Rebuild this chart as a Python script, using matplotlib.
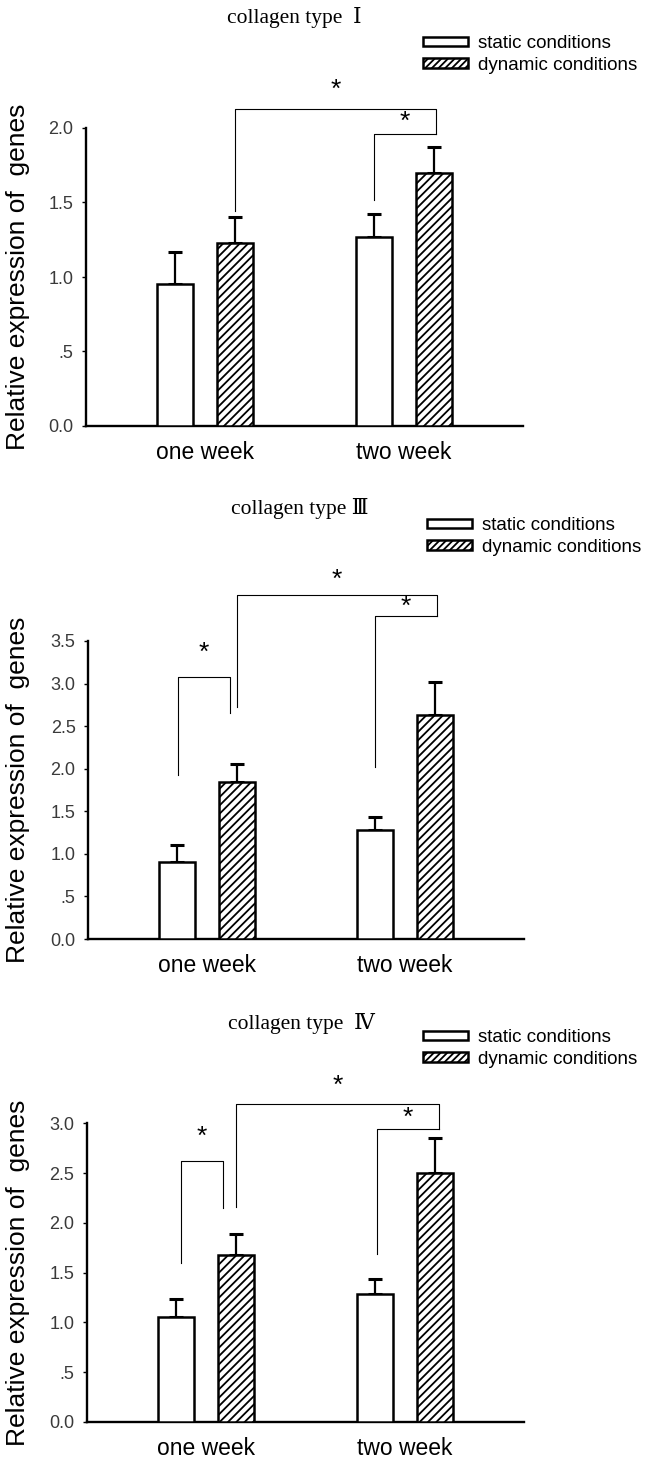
import matplotlib
matplotlib.use('Agg')
import matplotlib.pyplot as plt
from matplotlib.patches import Patch
import numpy as np

plt.rcParams['font.family'] = ['Liberation Sans', 'DejaVu Sans']
plt.rcParams['hatch.linewidth'] = 1.3

# ---------------- data ----------------
groups = ['one week', 'two week']
series = ['static conditions', 'dynamic conditions']
titles = ['collagen type  \u2160', 'collagen type \u2162', 'collagen type  \u2163']
ylabel = 'Relative expression of  genes'

col1_static = [0.95, 1.27]
col1_static_err = [0.22, 0.15]
col1_dynamic = [1.23, 1.695]
col1_dynamic_err = [0.17, 0.18]

col3_static = [0.90, 1.28]
col3_static_err = [0.20, 0.15]
col3_dynamic = [1.84, 2.63]
col3_dynamic_err = [0.21, 0.39]

col4_static = [1.05, 1.285]
col4_static_err = [0.19, 0.155]
col4_dynamic = [1.68, 2.50]
col4_dynamic_err = [0.21, 0.355]

ymax = [2.0, 3.5, 3.0]
ytick_vals = [[0, 0.5, 1.0, 1.5, 2.0],
              [0, 0.5, 1.0, 1.5, 2.0, 2.5, 3.0, 3.5],
              [0, 0.5, 1.0, 1.5, 2.0, 2.5, 3.0]]
ytick_labels = [['0.0', '.5', '1.0', '1.5', '2.0'],
                ['0.0', '.5', '1.0', '1.5', '2.0', '2.5', '3.0', '3.5'],
                ['0.0', '.5', '1.0', '1.5', '2.0', '2.5', '3.0']]

# significance brackets: (x_left, x_right, y_left_bottom, y_top, y_right_bottom, y_star)
brackets1 = [(1.15, 2.16, 1.445, 2.13, 1.96, 2.255),
             (1.85, 2.16, 1.52, 1.96, 1.96, 2.04)]
brackets3 = [(0.856, 1.115, 1.93, 3.08, 2.66, 3.36),
             (1.15, 2.16, 2.72, 4.04, 3.79, 4.22),
             (1.85, 2.16, 2.02, 3.79, 3.79, 3.90)]
brackets4 = [(0.873, 1.086, 1.60, 2.62, 2.15, 2.86),
             (1.15, 2.17, 2.16, 3.19, 2.94, 3.38),
             (1.86, 2.17, 1.69, 2.94, 2.94, 3.05)]

panels = [
    (col1_static, col1_static_err, col1_dynamic, col1_dynamic_err, brackets1),
    (col3_static, col3_static_err, col3_dynamic, col3_dynamic_err, brackets3),
    (col4_static, col4_static_err, col4_dynamic, col4_dynamic_err, brackets4),
]

# ---------------- layout (pixels) ----------------
W, H = 651, 1464
axes_px = [(86, 523, 128, 426), (88, 524, 641, 939), (87, 524, 1123.3, 1422)]
title_px = [(294, 18), (300, 508), (301, 1023)]
legend_px = [(423, 35), (427, 517), (423, 1029)]

fig = plt.figure(figsize=(W / 100, H / 100), dpi=100)

x = np.arange(1, len(groups) + 1)
off = 0.15
bw = 0.181

for i, (st, st_e, dy, dy_e, brs) in enumerate(panels):
    l, r, t, b = axes_px[i]
    ax = fig.add_axes([l / W, 1 - b / H, (r - l) / W, (b - t) / H])
    ax.bar(x - off, st, width=bw, facecolor='white', edgecolor='black', linewidth=1.8, zorder=3)
    ax.bar(x + off, dy, width=bw, facecolor='white', edgecolor='black', hatch='////',
           linewidth=1.8, zorder=3)
    ax.errorbar(x - off, st, yerr=[np.zeros(len(st)), st_e], fmt='none', ecolor='black',
                elinewidth=1.6, capsize=4.7, capthick=2.2, zorder=2)
    ax.errorbar(x + off, dy, yerr=[np.zeros(len(dy)), dy_e], fmt='none', ecolor='black',
                elinewidth=1.6, capsize=4.7, capthick=2.2, zorder=2)

    for (x0, x1, y0, yt, y1, ys) in brs:
        ax.plot([x0, x0, x1, x1], [y0, yt, yt, y1], color='black', lw=0.8, clip_on=False)
        ax.text((x0 + x1) / 2, ys, '*', ha='center', va='center', fontsize=19, clip_on=False)

    ax.set_xlim(0.4, 2.6)
    ax.set_ylim(0, ymax[i])
    ax.set_yticks(ytick_vals[i])
    ax.set_yticklabels(ytick_labels[i])
    ax.set_xticks(x)
    ax.set_xticklabels(groups)
    ax.tick_params(axis='y', direction='out', length=3, width=1, pad=6, labelsize=13,
                   labelcolor='#3a3a3a')
    ax.tick_params(axis='x', length=0, pad=11, labelsize=16.5)
    for s in ['top', 'right']:
        ax.spines[s].set_visible(False)
    for s in ['left', 'bottom']:
        ax.spines[s].set_linewidth(1.7)
    ax.set_ylabel(ylabel, fontsize=19)
    ax.yaxis.set_label_coords((30 - l) / (r - l), 0.5)

    tx, ty = title_px[i]
    fig.text(tx / W, 1 - ty / H, titles[i], ha='center', va='center', fontsize=15.5,
             family=['Liberation Serif', 'DejaVu Serif', 'Noto Sans CJK SC'])

    handles = [Patch(facecolor='white', edgecolor='black', linewidth=1.8),
               Patch(facecolor='white', edgecolor='black', hatch='/////', linewidth=1.8)]
    lx, ly = legend_px[i]
    fig.legend(handles, series, loc='upper left', bbox_to_anchor=(lx / W, 1 - ly / H),
               bbox_transform=fig.transFigure, frameon=False, borderaxespad=0, borderpad=0,
               handlelength=2.4, handleheight=0.37, handletextpad=0.55, labelspacing=0.25,
               fontsize=13.5)

fig.savefig('out.png', dpi=100)
